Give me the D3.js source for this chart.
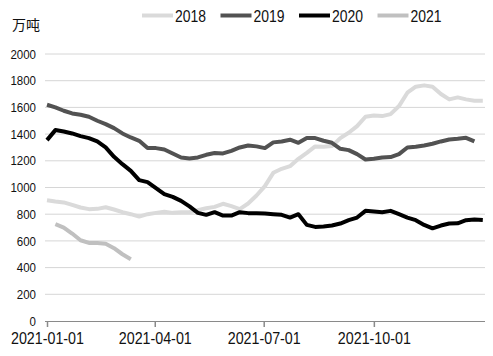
<!DOCTYPE html>
<html>
<head>
<meta charset="utf-8">
<script src="https://cdn.jsdelivr.net/npm/d3@7"></script>
<style>
  html, body { margin: 0; padding: 0; background: #fff; }
  svg { display: block; }
</style>
</head>
<body>
<svg id="chart" width="493" height="356"></svg>
<script>
// ---- data (weekly, starting 2021-01-01) ----
const seriesNames = ["2018", "2019", "2020", "2021"];
const yTicks = [0, 200, 400, 600, 800, 1000, 1200, 1400, 1600, 1800, 2000];
const xTickLabels = ["2021-01-01", "2021-04-01", "2021-07-01", "2021-10-01"];
const unitLabel = "万吨";

const v2018 = [905, 895, 888, 870, 850, 838, 840, 852, 835, 815, 800, 782, 800, 810, 818, 810,
  815, 815, 830, 845, 855, 878, 860, 838, 880, 940, 1010, 1110, 1140, 1160, 1215, 1260,
  1308, 1305, 1310, 1370, 1410, 1460, 1530, 1540, 1535, 1550, 1610, 1710, 1755, 1765, 1755,
  1700, 1660, 1675, 1660, 1650, 1650];
const v2019 = [1620, 1600, 1575, 1555, 1545, 1530, 1500, 1475, 1445, 1405, 1375, 1350, 1295,
  1295, 1285, 1255, 1225, 1218, 1225, 1245, 1258, 1255, 1275, 1300, 1315, 1308, 1295, 1338,
  1345, 1358, 1335, 1370, 1370, 1350, 1335, 1290, 1280, 1250, 1210, 1215, 1225, 1228, 1250,
  1300, 1305, 1315, 1328, 1345, 1360, 1365, 1372, 1345];
const v2020 = [1355, 1430, 1420, 1405, 1385, 1370, 1345, 1300, 1230, 1175, 1125, 1055, 1040,
  995, 950, 930, 900, 858, 810, 795, 815, 790, 790, 815, 808, 808, 805, 800, 795, 775, 800,
  720, 705, 708, 715, 730, 755, 775, 825, 820, 815, 825, 800, 775, 755, 720, 694, 715, 730,
  732, 755, 760, 756];
const v2021 = [null, 725, 700, 655, 605, 585, 585, 578, 545, 500, 462];

const seriesValues = [v2018, v2019, v2020, v2021];
const seriesColors = ["#dadada", "#525252", "#000000", "#c0c0c0"];

const FONT = "'Liberation Sans', Arial, sans-serif";

// ---- layout ----
const svg = d3.select("#chart");
const start = new Date(2021, 0, 1);
const x = d3.scaleTime()
  .domain([start, new Date(2022, 0, 1)])
  .range([47, 484]);
const y = d3.scaleLinear().domain([0, 2000]).range([321, 54]);
const weekDate = i => d3.timeDay.offset(start, 7 * i);

// gridlines
svg.append("g").selectAll("line")
  .data(yTicks.filter(d => d > 0))
  .join("line")
  .attr("x1", 45).attr("x2", 485)
  .attr("y1", d => y(d)).attr("y2", d => y(d))
  .attr("stroke", "#d6d6d6").attr("stroke-width", 1);

// y axis labels
const yAxis = d3.axisLeft(y).tickValues(yTicks).tickFormat(d3.format("d")).tickSize(0).tickPadding(0);
const gy = svg.append("g").attr("transform", "translate(36,0)").call(yAxis);
gy.select(".domain").remove();
gy.selectAll("text")
  .attr("font-family", FONT)
  .attr("font-size", 13)
  .attr("fill", "#111")
  .attr("textLength", d => String(d).length * 6.4)
  .attr("lengthAdjust", "spacingAndGlyphs");

// x axis
const xTickDates = xTickLabels.map(s => d3.timeParse("%Y-%m-%d")(s));
const xAxis = d3.axisBottom(x).tickValues(xTickDates)
  .tickFormat(d3.timeFormat("%Y-%m-%d")).tickSize(6).tickSizeOuter(0).tickPadding(5);
const gx = svg.append("g").attr("transform", "translate(0,321)").call(xAxis);
gx.select(".domain").attr("stroke", "#8a8a8a").attr("d", "M45,0.5H485");
gx.selectAll(".tick line").attr("stroke", "#8a8a8a").attr("stroke-width", 1.5);
gx.selectAll("text")
  .attr("font-family", FONT)
  .attr("font-size", 16.5)
  .attr("fill", "#111")
  .attr("textLength", 73)
  .attr("lengthAdjust", "spacingAndGlyphs");

// lines
const line = d3.line()
  .defined(d => d.v != null)
  .x(d => x(d.date))
  .y(d => y(d.v))
  .curve(d3.curveLinear);

seriesValues.forEach((vals, k) => {
  const pts = vals.map((v, i) => ({ date: weekDate(i), v }));
  svg.append("path")
    .datum(pts)
    .attr("d", line)
    .attr("fill", "none")
    .attr("stroke", seriesColors[k])
    .attr("stroke-width", 4)
    .attr("stroke-linejoin", "round")
    .attr("stroke-linecap", "butt");
});

// legend
const legend = svg.append("g");
seriesNames.forEach((name, k) => {
  const lx = 142 + k * 78.5;
  legend.append("line")
    .attr("x1", lx).attr("x2", lx + 31)
    .attr("y1", 15.5).attr("y2", 15.5)
    .attr("stroke", seriesColors[k]).attr("stroke-width", 4);
  legend.append("text")
    .attr("font-family", FONT)
    .attr("x", lx + 33).attr("y", 21.5)
    .attr("font-size", 16.5)
    .attr("fill", "#111")
    .attr("textLength", 31)
    .attr("lengthAdjust", "spacingAndGlyphs")
    .text(name);
});

// unit label
svg.append("text")
  .attr("x", 12).attr("y", 30)
  .attr("font-family", "'Noto Sans CJK SC', sans-serif")
  .attr("font-size", 14)
  .attr("fill", "#111")
  .text(unitLabel);
</script>
</body>
</html>
